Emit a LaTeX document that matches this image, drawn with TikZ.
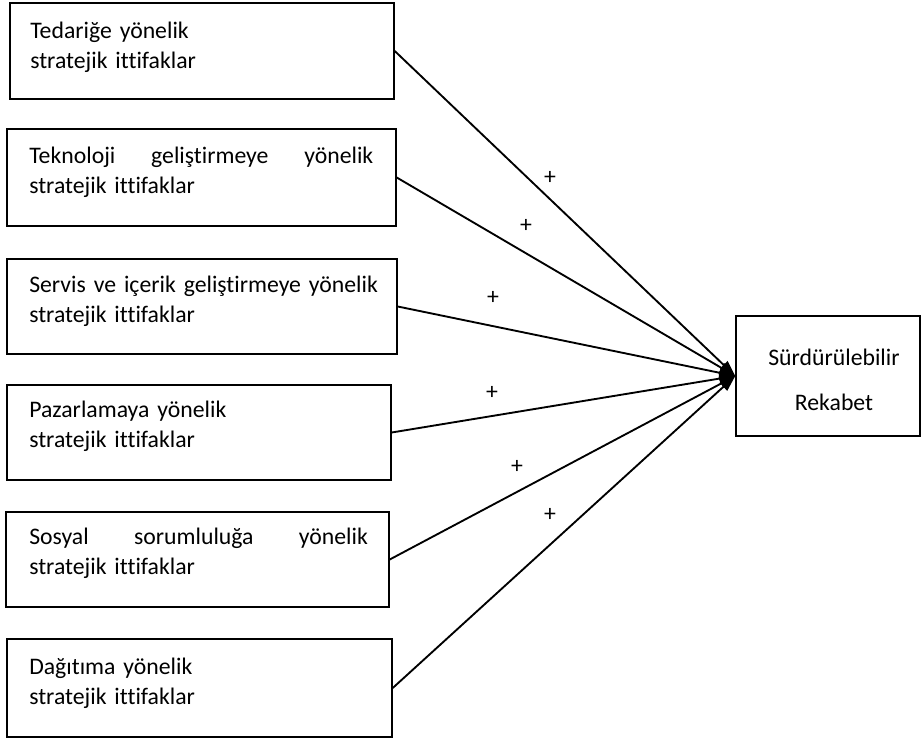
\documentclass[tikz,border=0pt]{standalone}
\usepackage{fontspec}
\setmainfont{Carlito}[Ligatures=NoCommon]
\usetikzlibrary{arrows.meta}
\begin{document}
\begin{tikzpicture}[
  x=0.75pt, y=-0.75pt,
  box/.style 2 args={draw, line width=1.1pt, inner sep=0pt,
    minimum width=#1*0.75pt, minimum height=#2*0.75pt},
  label/.style={anchor=north west, inner sep=0pt, align=left,
    font=\fontsize{17.8}{22.5}\selectfont},
  conn/.style={line width=1.4pt, -{Triangle[length=12pt,width=8pt]}},
  sign/.style={inner sep=0pt, font=\fontsize{17.8}{22.5}\selectfont}
]
\useasboundingbox (0,0) rectangle (921,738);

% source boxes
\node[box={384}{96}] (b1) at (202,51) {};
\node[box={389}{97}] (b2) at (201.5,177.5) {};
\node[box={390}{95}] (b3) at (202,306.5) {};
\node[box={384}{95}] (b4) at (199,432.5) {};
\node[box={383}{95}] (b5) at (197.5,559.5) {};
\node[box={385}{98}] (b6) at (199.5,688) {};

% target box
\node[box={184}{120}] (r) at (828,376) {};

% box texts
\node[label, text width=270pt] (t1) at (30,17) {\strut Tedariğe yönelik\\stratejik ittifaklar};
\node[label, text width=258pt] (t2) at (29,142) {\strut Teknoloji\hfill geliştirmeye\hfill yönelik\\stratejik ittifaklar};
\node[label, text width=270pt] (t3) at (29,271) {\strut Servis ve içerik geliştirmeye yönelik\\stratejik ittifaklar};
\node[label, text width=270pt] (t4) at (29,396) {\strut Pazarlamaya yönelik\\stratejik ittifaklar};
\node[label, text width=254pt] (t5) at (29,523) {\strut Sosyal\hfill sorumluluğa\hfill yönelik\\stratejik ittifaklar};
\node[label, text width=270pt] (t6) at (29,653) {\strut Dağıtıma yönelik\\stratejik ittifaklar};

\node[anchor=north, inner sep=0pt, align=center,
  font=\fontsize{17.8}{33.75}\selectfont] (tr) at (834,333.5)
  {\strut Sürdürülebilir\\Rekabet};

% connectors
\foreach \i in {1,...,6} {
  \draw[conn] (b\i.east) -- (r.west);
}

% signs
\node[sign] (p1) at (550,178) {+};
\node[sign] (p2) at (526,226) {+};
\node[sign] (p3) at (493,298) {+};
\node[sign] (p4) at (492,393) {+};
\node[sign] (p5) at (517,467) {+};
\node[sign] (p6) at (550,515) {+};
\end{tikzpicture}
\end{document}
